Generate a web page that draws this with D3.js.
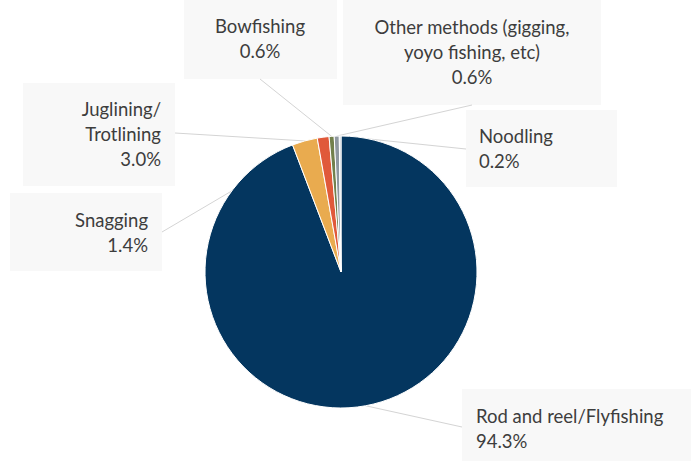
<!DOCTYPE html>
<html>
<head>
<meta charset="utf-8">
<script src="https://cdn.jsdelivr.net/npm/d3@7"></script>
<style>
  html, body { margin: 0; padding: 0; background: #ffffff; }
  svg { display: block; }
  text { font-family: Lato, "Noto Sans", sans-serif; fill: #3d3d3d; }
</style>
</head>
<body>
<svg id="chart" width="691" height="461"></svg>
<script>
// Fishing methods share (percent), clockwise from 12 o'clock
const categories = [
  "Rod and reel/Flyfishing",
  "Juglining/Trotlining",
  "Snagging",
  "Bowfishing",
  "Other methods (gigging, yoyo fishing, etc)",
  "Noodling"
];
const values = [94.3, 3.0, 1.4, 0.6, 0.6, 0.2];
const colors = ["#04365f", "#e9ab4f", "#e0593a", "#72804c", "#8e979f", "#c4ccd3"];

// How each category name is broken over lines in its label
const labelLines = [
  ["Rod and reel/Flyfishing"],
  ["Juglining/", "Trotlining"],
  ["Snagging"],
  ["Bowfishing"],
  ["Other methods (gigging,", "yoyo fishing, etc)"],
  ["Noodling"]
];

// Label box placement: box rect, text alignment, and where the leader line meets the box
const labelLayout = [
  { x: 462, y: 389, w: 240, h: 80,  align: "start",  tx: 476, ty: 423, ax: 462, ay: 427 },
  { x: 23,  y: 83,  w: 152, h: 103, align: "end",    tx: 161, ty: 116, ax: 175, ay: 133 },
  { x: 10,  y: 193, w: 152, h: 78,  align: "end",    tx: 148, ty: 227, ax: 162, ay: 232 },
  { x: 184, y: -2,  w: 153, h: 81,  align: "middle", tx: 260, ty: 33,  ax: 260, ay: 79 },
  { x: 343, y: -2,  w: 258, h: 107, align: "middle", tx: 472, ty: 34,  ax: 472, ay: 105 },
  { x: 466, y: 110, w: 151, h: 77,  align: "start",  tx: 479, ty: 143, ax: 466, ay: 149 }
];

const cx = 341, cy = 272, radius = 136, lineH = 25;
const fmt = d3.format(".1f");

const svg = d3.select("#chart");

const pie = d3.pie().sort(null).value(d => d.value).startAngle(0).endAngle(2 * Math.PI);
const arcs = pie(categories.map((c, i) => ({ name: c, value: values[i], i })));
const arc = d3.arc().innerRadius(0).outerRadius(radius);

// Label boxes (behind everything)
const labels = svg.append("g").selectAll("g")
  .data(arcs)
  .join("g");

labels.append("rect")
  .attr("x", d => labelLayout[d.data.i].x)
  .attr("y", d => labelLayout[d.data.i].y)
  .attr("width", d => labelLayout[d.data.i].w)
  .attr("height", d => labelLayout[d.data.i].h)
  .attr("fill", "#f8f8f8");

// Leader lines from slice edge to label box
const outerPt = d => {
  const a = (d.startAngle + d.endAngle) / 2;
  return [cx + radius * Math.sin(a), cy - radius * Math.cos(a)];
};
svg.append("g").selectAll("line")
  .data(arcs)
  .join("line")
  .attr("x1", d => labelLayout[d.data.i].ax)
  .attr("y1", d => labelLayout[d.data.i].ay)
  .attr("x2", d => outerPt(d)[0])
  .attr("y2", d => outerPt(d)[1])
  .attr("stroke", "#d4d4d4")
  .attr("stroke-width", 1);

// Pie slices
svg.append("g")
  .attr("transform", `translate(${cx},${cy})`)
  .selectAll("path")
  .data(arcs)
  .join("path")
  .attr("d", arc)
  .attr("fill", d => colors[d.data.i])
  .attr("stroke", "#ffffff")
  .attr("stroke-width", 1);

// Label text: name lines followed by the percentage
labels.each(function(d) {
  const L = labelLayout[d.data.i];
  const lines = labelLines[d.data.i].concat([fmt(d.data.value) + "%"]);
  const t = d3.select(this).append("text")
    .attr("text-anchor", L.align)
    .attr("font-size", 18.5);
  lines.forEach((ln, k) => {
    t.append("tspan")
      .attr("x", L.tx)
      .attr("y", L.ty + k * lineH)
      .text(ln);
  });
});
</script>
</body>
</html>
